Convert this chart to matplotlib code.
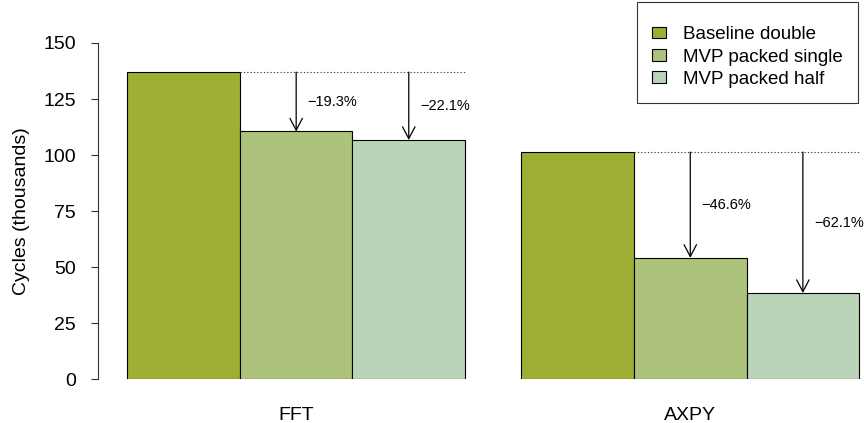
import matplotlib
matplotlib.use("Agg")
import matplotlib.pyplot as plt
from matplotlib.patches import Patch

plt.rcParams['font.family'] = ['Liberation Sans', 'DejaVu Sans']

# data (cycles, thousands)
benchmarks = ['FFT', 'AXPY']
series_names = ['Baseline double', 'MVP packed single', 'MVP packed half']
baseline = [137.0, 101.3]
packed_single = [110.5, 54.1]
packed_half = [106.7, 38.4]
colors = ['#9fae35', '#adc27a', '#b9d4b8']

series = [baseline, packed_single, packed_half]
group_start = [0.5, 4.0]

fig = plt.figure(figsize=(8.64, 4.23), dpi=100)
ax = fig.add_axes([98 / 864, 44 / 423, 1 - 98 / 864, 336 / 423])

for j, b in enumerate(benchmarks):
    x0 = group_start[j]
    for i, vals in enumerate(series):
        ax.bar(x0 + i + 0.5, vals[j], width=1.0, color=colors[i],
               edgecolor='black', linewidth=0.8)
    base = baseline[j]
    # dotted reference line from the baseline bar to the end of the group
    ax.plot([x0 + 1, x0 + 3], [base, base], color='#444444',
            linestyle=(0, (1.2, 1.8)), linewidth=0.8)
    for i in (1, 2):
        v = series[i][j]
        xc = x0 + i + 0.5
        ax.annotate('', xy=(xc, v), xytext=(xc, base),
                    arrowprops=dict(arrowstyle='->,head_length=0.85,head_width=0.45',
                                    mutation_scale=10, color='black', lw=0.9,
                                    shrinkA=0, shrinkB=0))
        pct = (v / base - 1) * 100
        ax.text(xc + 0.1, (v + base) / 2, '\u2212%.1f%%' % abs(pct),
                fontsize=10.5, ha='left', va='center')

ax.set_xlim(0.24, 0.24 + (864 - 98) / 112.6)
ax.set_ylim(0, 150)
ax.set_yticks([0, 25, 50, 75, 100, 125, 150])
ax.set_xticks([g + 1.5 for g in group_start])
ax.set_xticklabels(benchmarks)
ax.tick_params(axis='x', length=0, pad=20, labelsize=14)
ax.tick_params(axis='y', length=5, width=0.8, pad=11, labelsize=14, color='#333333')
for s in ['top', 'right', 'bottom']:
    ax.spines[s].set_visible(False)
ax.spines['left'].set_bounds(0, 150)
ax.spines['left'].set_color('#333333')
ax.spines['left'].set_linewidth(0.8)
ax.set_ylabel('Cycles (thousands)', fontsize=14, labelpad=9.5)

handles = [Patch(facecolor=c, edgecolor='black', linewidth=0.8) for c in colors]
# a tiny blank title adds the extra top padding seen in the original legend
leg = fig.legend(handles, series_names, loc='upper right',
                 bbox_to_anchor=(858 / 864, 1 - 2 / 423), bbox_transform=fig.transFigure,
                 borderaxespad=0, fontsize=13.5, frameon=True, fancybox=False,
                 handlelength=0.75, handleheight=0.55, handletextpad=0.9,
                 labelspacing=0.28, borderpad=0.8, title=' ', title_fontsize=2)
leg.get_frame().set_edgecolor('black')
leg.get_frame().set_linewidth(0.8)

fig.savefig('out.png', dpi=100)
